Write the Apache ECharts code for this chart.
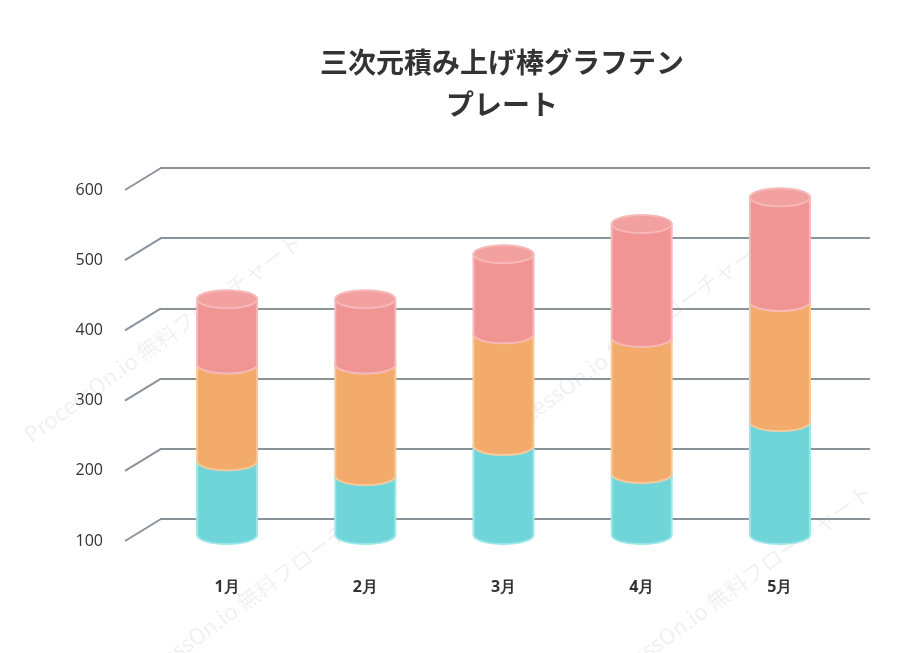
<!DOCTYPE html>
<html>
<head>
<meta charset="utf-8">
<script src="https://cdn.jsdelivr.net/npm/echarts@6/dist/echarts.min.js"></script>
<style>html,body{margin:0;padding:0;background:#fff}#c{width:910px;height:653px}</style>
</head>
<body>
<div id="c"></div>
<script>
var months = ['1月', '2月', '3月', '4月', '5月'];
var base = 100;
var seriesA = [105, 84, 127, 87, 161];   // teal
var seriesB = [138, 159, 159, 194, 171]; // orange
var seriesC = [93, 93, 114, 162, 149];   // pink
var ticks = [100, 200, 300, 400, 500, 600];

var colors = [
	{ fill: '#6fd5d8', top: '#7fdde0', line: '#9ee6e8' },
	{ fill: '#f2ab6a', top: '#f4b57c', line: '#f7c89c' },
	{ fill: '#f09494', top: '#f2a0a0', line: '#f6b8b8' }
];

var stacks = months.map(function (m, i) {
	var s0 = base, s1 = s0 + seriesA[i], s2 = s1 + seriesB[i], s3 = s2 + seriesC[i];
	return [i, s0, s1, s2, s3];
});

function cylinder(api) {
	var i = api.value(0);
	var children = [];
	var rx = 30, ry = 9;
	for (var k = 0; k < 3; k++) {
		var p0 = api.coord([i, api.value(k + 1)]);
		var p1 = api.coord([i, api.value(k + 2)]);
		var cx = p0[0], yb = p0[1] - 6, yt = p1[1] - 6;
		var c = colors[k];
		children.push({
			type: 'path',
			shape: {
				pathData: 'M' + (cx - rx) + ' ' + yt + ' L' + (cx - rx) + ' ' + yb +
					' A' + rx + ' ' + ry + ' 0 0 0 ' + (cx + rx) + ' ' + yb +
					' L' + (cx + rx) + ' ' + yt + ' Z'
			},
			style: { fill: c.fill, stroke: c.line, lineWidth: 2 }
		});
		children.push({
			type: 'ellipse',
			shape: { cx: cx, cy: yt, rx: rx, ry: ry },
			style: { fill: c.top, stroke: c.line, lineWidth: 2 }
		});
	}
	return { type: 'group', children: children };
}

var chart = echarts.init(document.getElementById('c'));
chart.setOption({
	animation: false,
	title: {
		text: '三次元積み上げ棒グラフテン\nプレート',
		left: 497, top: 36, textAlign: 'center',
		textStyle: { fontSize: 28, fontWeight: 'bold', color: '#333', lineHeight: 42, fontFamily: 'Noto Sans CJK JP' }
	},
	graphic: [
		{ type: 'text', left: 20, top: 230, rotation: Math.PI / 5, style: { text: 'ProcessOn.io 無料フローチャート', fill: 'rgba(0,0,0,0.06)', font: '22px Noto Sans CJK JP' } },
		{ type: 'text', left: 490, top: 230, rotation: Math.PI / 5, style: { text: 'ProcessOn.io 無料フローチャート', fill: 'rgba(0,0,0,0.06)', font: '22px Noto Sans CJK JP' } },
		{ type: 'text', left: 120, top: 480, rotation: Math.PI / 5, style: { text: 'ProcessOn.io 無料フローチャート', fill: 'rgba(0,0,0,0.06)', font: '22px Noto Sans CJK JP' } },
		{ type: 'text', left: 590, top: 480, rotation: Math.PI / 5, style: { text: 'ProcessOn.io 無料フローチャート', fill: 'rgba(0,0,0,0.06)', font: '22px Noto Sans CJK JP' } }
	],
	grid: [
		{ left: 158, right: 61, top: 190, bottom: 112 },
		{ left: 160, right: 40, top: 168, bottom: 134 }
	],
	xAxis: [
		{ gridIndex: 0, type: 'category', data: months, axisLine: { show: false }, axisTick: { show: false },
		  axisLabel: { margin: 38, fontSize: 16, fontWeight: 'bold', color: '#333', fontFamily: 'Open Sans' } },
		{ gridIndex: 1, type: 'category', data: months, show: false }
	],
	yAxis: [
		{ gridIndex: 0, type: 'value', min: 100, max: 600, interval: 100, splitLine: { show: false },
		  axisLine: { show: false }, axisTick: { show: false },
		  axisLabel: { margin: 55, fontSize: 16, color: '#333', fontFamily: 'Open Sans' } },
		{ gridIndex: 1, type: 'value', min: 100, max: 600, interval: 100,
		  axisLine: { show: false }, axisTick: { show: false }, axisLabel: { show: false },
		  splitLine: { lineStyle: { color: '#8a939c', width: 2 } } }
	],
	series: [
		{
			type: 'custom', xAxisIndex: 0, yAxisIndex: 0, silent: true,
			data: ticks.map(function (t) { return [0, t]; }),
			renderItem: function (params, api) {
				var y = api.coord([0, api.value(1)])[1];
				var x0 = params.coordSys.x - 33;
				return { type: 'line', shape: { x1: x0, y1: y, x2: x0 + 36, y2: y - 22 },
					style: { stroke: '#8a939c', lineWidth: 2 } };
			}
		},
		{
			type: 'custom', xAxisIndex: 0, yAxisIndex: 0,
			data: stacks,
			encode: { x: 0, y: 4 },
			renderItem: function (params, api) { return cylinder(api); }
		}
	]
});
</script>
</body>
</html>
